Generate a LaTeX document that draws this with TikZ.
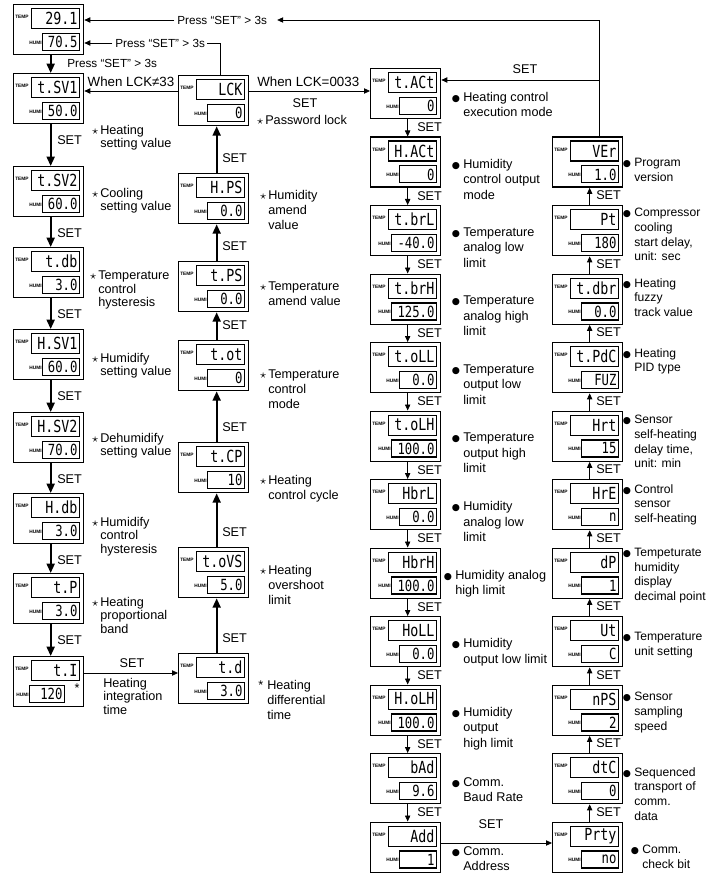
\documentclass[tikz,border=0pt]{standalone}
\usepackage{fontspec}
\setmainfont{Liberation Sans}
\newfontfamily\segfont[FakeStretch=0.8]{DejaVu Sans Mono}
\newfontfamily\symfont{DejaVu Sans}
\usetikzlibrary{arrows.meta}
\newcommand\bul{\llap{{\symfont\fontsize{7}{7}\selectfont ●}\hspace{2.5pt}}}
\newcommand\stm{\llap{$\star$\hspace{1.5pt}}}
\newcommand\modul[7]{%
  \node[modbox] (#1) at (#2,#3) {};
  \node[tdisp] (#1-t) at ({#2+67},{#3+4}) {#4};
  \node[tlab] (#1-tl) at ({#2+2},{#3+13}) {TEMP};
  \pgfmathsetlengthmacro\hw{(#7-#6)*0.75pt}%
  \pgfmathsetlengthmacro\hwt{(#7-#6)*0.75pt-3pt}%
  \node[hdisp, minimum width=\hw, text width=\hwt] (#1-h) at ({#2+#7},{#3+47}) {#5};
  \node[hlab] (#1-hl) at ({#2+#6-1},{#3+38.5}) {HUMI};
}
\begin{document}
\begin{tikzpicture}[x=0.75pt,y=-0.75pt,
  modbox/.style={draw, line width=1pt, anchor=north west, minimum width=52.5pt, minimum height=37.5pt, inner sep=0pt},
  tdisp/.style={draw, line width=0.8pt, anchor=north east, minimum width=36pt, minimum height=15pt, text width=33pt, inner sep=1.5pt, align=right, font=\segfont\fontsize{12.5}{12.5}\selectfont},
  hdisp/.style={draw, line width=0.8pt, anchor=south east, minimum height=12.75pt, inner sep=1.5pt, align=right, font=\segfont\fontsize{11.5}{11.5}\selectfont},
  tlab/.style={anchor=west, inner sep=0pt, font=\bfseries\fontsize{3.6}{4}\selectfont},
  hlab/.style={anchor=east, inner sep=0pt, font=\bfseries\fontsize{3.6}{4}\selectfont},
  lab1/.style={anchor=north west, align=left, inner sep=0pt, font=\fontsize{9.5}{10}\selectfont},
  lab2/.style={anchor=north west, align=left, inner sep=0pt, font=\fontsize{9.5}{11.25}\selectfont},
  lab3/.style={anchor=north west, align=left, inner sep=0pt, font=\fontsize{9.5}{11.5}\selectfont},
  lab4/.style={anchor=north west, align=left, inner sep=0pt, font=\fontsize{9.1}{11}\selectfont},
  setl/.style={inner sep=0pt, font=\fontsize{9.5}{10}\selectfont},
  pls/.style={inner sep=0pt, font=\fontsize{8.8}{10}\selectfont},
  wl/.style={inner sep=0pt, font=\fontsize{10}{11}\selectfont},
  thk/.style={line width=1.4pt, -{Triangle[length=7pt,width=6pt]}},
  thn/.style={line width=0.6pt, -{Triangle[length=4.5pt,width=4pt]}},
  ln/.style={line width=0.6pt}
]
\useasboundingbox (0,0) rectangle (709,877);
% column 1
\modul{A}{13}{4}{29.1}{70.5}{30}{67}
\modul{tsva}{13}{73}{t.SV1}{50.0}{30}{67}
\modul{tsvb}{13}{166}{t.SV2}{60.0}{30}{67}
\modul{tdb}{13}{247}{t.db}{3.0}{30}{67}
\modul{hsva}{13}{329}{H.SV1}{60.0}{30}{67}
\modul{hsvb}{13}{412}{H.SV2}{70.0}{30}{67}
\modul{hdb}{13}{493}{H.db}{3.0}{30}{67}
\modul{tp}{13}{573}{t.P}{3.0}{30}{67}
\modul{ti}{13}{656}{t.I}{120}{17}{52}
% column 2
\modul{lck}{178}{75}{LCK}{0}{30}{67}
\modul{hps}{178}{173}{H.PS}{0.0}{30}{67}
\modul{tps}{178}{261}{t.PS}{0.0}{30}{67}
\modul{tot}{178}{340}{t.ot}{0}{30}{67}
\modul{tcp}{178}{442}{t.CP}{10}{30}{67}
\modul{tovs}{178}{547}{t.oVS}{5.0}{30}{67}
\modul{td}{178}{653}{t.d}{3.0}{30}{67}
% column 3
\modul{tact}{370}{68}{t.ACt}{0}{30}{67}
\modul{hact}{370}{136.5}{H.ACt}{0}{30}{67}
\modul{tbrl}{370}{205}{t.brL}{-40.0}{22}{67}
\modul{tbrh}{370}{273.5}{t.brH}{125.0}{22}{67}
\modul{toll}{370}{342}{t.oLL}{0.0}{30}{67}
\modul{tolh}{370}{410.5}{t.oLH}{100.0}{22}{67}
\modul{hbrl}{370}{479}{HbrL}{0.0}{30}{67}
\modul{hbrh}{370}{547.5}{HbrH}{100.0}{22}{67}
\modul{holl}{370}{616}{HoLL}{0.0}{30}{67}
\modul{holh}{370}{684.5}{H.oLH}{100.0}{22}{67}
\modul{bad}{370}{753}{bAd}{9.6}{30}{67}
\modul{add}{370}{821.5}{Add}{1}{30}{67}
% column 4
\modul{ver}{552}{136.5}{VEr}{1.0}{30}{67}
\modul{pt}{552}{205}{Pt}{180}{30}{67}
\modul{tdbr}{552}{273.5}{t.dbr}{0.0}{30}{67}
\modul{tpdc}{552}{342}{t.PdC}{FUZ}{30}{67}
\modul{hrt}{552}{410.5}{Hrt}{15}{30}{67}
\modul{hre}{552}{479}{HrE}{n}{30}{67}
\modul{dp}{552}{547.5}{dP}{1}{30}{67}
\modul{ut}{552}{616}{Ut}{C}{30}{67}
\modul{nps}{552}{684.5}{nPS}{2}{30}{67}
\modul{dtc}{552}{753}{dtC}{0}{30}{67}
\modul{prty}{552}{821.5}{Prty}{no}{30}{67}

% top loops
\coordinate (c1) at (599,20);
\coordinate (c2) at (599,80);
\node[pls, anchor=west] (p1) at (177,20) {Press “SET” > 3s};
\draw[thn] (ver.north -| c1) -- (c1) -- ([xshift=7.5pt]p1.east);
\draw[thn] ([xshift=-2pt]p1.west) -- (A.east |- p1.west);
\draw[thn] (c2) -- (tact.east |- c2);
\node[setl] (s-top) at (525,69) {SET};
\coordinate (c3) at (220,43);
\node[pls, anchor=west] (p2) at (115,43) {Press “SET” > 3s};
\draw[ln] (lck.north -| c3) -- (c3) -- ([xshift=1.5pt]p2.east);
\draw[thn] ([xshift=-2pt]p2.west) -- (A.east |- p2.west);
\node[pls, anchor=west] (p3) at (67,63) {Press “SET” > 3s};
\draw[thk] ([xshift=1.5pt]A.south) -- ([xshift=1.5pt]tsva.north);

% LCK branches
\coordinate (y91) at (0,91);
\draw[thn] (lck.west |- y91) -- (tsva.east |- y91);
\node[wl] (w1) at (131,82) {When LCK≠33};
\draw[thn] (lck.east |- y91) -- (tact.west |- y91);
\node[wl, anchor=west] (w2) at (257,82) {When LCK=0033};
\node[setl] (s-lck) at (305,103) {SET};

% column 1 arrows
\foreach \a/\b/\y in {tsva/tsvb/140, tsvb/tdb/233, tdb/hsva/314, hsva/hsvb/396, hsvb/hdb/479, hdb/tp/560, tp/ti/640} {
  \draw[thk] ([xshift=1.5pt]\a.south) -- ([xshift=1.5pt]\b.north);
  \node[setl, anchor=west] (s-\a) at (57,\y) {SET};
}
% column 2 arrows
\foreach \a/\b/\y in {td/tovs/638, tovs/tcp/532, tcp/tot/427, tot/tps/325, tps/hps/246, hps/lck/158} {
  \draw[thk] ([xshift=2.25pt]\a.north) -- ([xshift=2.25pt]\b.south);
  \node[setl, anchor=west] (s-\a) at (222,\y) {SET};
}
% column 3 arrows
\foreach \a/\b/\y in {tact/hact/127.5, hact/tbrl/196, tbrl/tbrh/264.5, tbrh/toll/333, toll/tolh/401.5, tolh/hbrl/470, hbrl/hbrh/538.5, hbrh/holl/607, holl/holh/675.5, holh/bad/744, bad/add/812.5} {
  \draw[thn] ([xshift=1.5pt]\a.south) -- ([xshift=1.5pt]\b.north);
  \node[setl, anchor=west] (s-\a) at (417,\y) {SET};
}
% column 4 arrows
\foreach \a/\b/\y in {prty/dtc/812, dtc/nps/743.5, nps/ut/675, ut/dp/606.5, dp/hre/538, hre/hrt/469.5, hrt/tpdc/401, tpdc/tdbr/332.5, tdbr/pt/264, pt/ver/195.5} {
  \draw[thn] ([xshift=1.5pt]\a.north) -- ([xshift=1.5pt]\b.south);
  \node[setl, anchor=west] (s-\a) at (596,\y) {SET};
}
% bottom links
\coordinate (y673) at (0,673);
\draw[thn] (ti.east |- y673) -- (td.west |- y673);
\node[setl] (s-ti) at (132,663) {SET};
\coordinate (y843) at (0,843);
\draw[thn] (add.east |- y843) -- (prty.west |- y843);
\node[setl] (s-add) at (491,824) {SET};

% column 1 labels
\node[lab1] (l-tsva) at (100,125) {\stm Heating\\setting value};
\node[lab1] (l-tsvb) at (100,188) {\stm Cooling\\setting value};
\node[lab1] (l-tdb) at (98,271) {\stm Temperature\\control\\hysteresis};
\node[lab1] (l-hsva) at (100,353) {\stm Humidify\\setting value};
\node[lab1] (l-hsvb) at (100,433) {\stm Dehumidify\\setting value};
\node[lab1] (l-hdb) at (100,517) {\stm Humidify\\control\\hysteresis};
\node[lab1] (l-tp) at (100,597) {\stm Heating\\proportional\\band};
\node[lab1] (l-ti) at (103,678) {Heating\\integration\\time};
\node[setl] (st-ti) at (77,688) {*};
% column 2 labels
\node[lab2] (l-lck) at (265,115) {\stm Password lock};
\node[lab2] (l-hps) at (268,190) {\stm Humidity\\amend\\value};
\node[lab2] (l-tps) at (268,282) {\stm Temperature\\amend value};
\node[lab2] (l-tot) at (268,370) {\stm Temperature\\control\\mode};
\node[lab2] (l-tcp) at (268,475) {\stm Heating\\control cycle};
\node[lab2] (l-tovs) at (268,565) {\stm Heating\\overshoot\\limit};
\node[lab2] (l-td) at (267,680) {\llap{*\hspace{3pt}}Heating\\differential\\time};
% column 3 labels
\node[lab3] (l-tact) at (463,92) {\bul Heating control\\execution mode};
\node[lab3] (l-hact) at (463,159) {\bul Humidity\\control output\\mode};
\node[lab3] (l-tbrl) at (463,227.5) {\bul Temperature\\analog low\\limit};
\node[lab3] (l-tbrh) at (463,296) {\bul Temperature\\analog high\\limit};
\node[lab3] (l-toll) at (463,364.5) {\bul Temperature\\output low\\limit};
\node[lab3] (l-tolh) at (463,433) {\bul Temperature\\output high\\limit};
\node[lab3] (l-hbrl) at (463,501.5) {\bul Humidity\\analog low\\limit};
\node[lab3] (l-hbrh) at (455,570) {\bul Humidity analog\\high limit};
\node[lab3] (l-holl) at (463,638.5) {\bul Humidity\\output low limit};
\node[lab3] (l-holh) at (463,707) {\bul Humidity\\output\\high limit};
\node[lab3] (l-bad) at (463,777) {\bul Comm.\\Baud Rate};
\node[lab3] (l-add) at (463,846) {\bul Comm.\\Address};
% column 4 labels
\node[lab4] (l-ver) at (634,158) {\bul Program\\version};
\node[lab4] (l-pt) at (634,208) {\bul Compressor\\cooling\\start delay,\\unit: sec};
\node[lab4] (l-tdbr) at (634,278) {\bul Heating\\fuzzy\\track value};
\node[lab4] (l-tpdc) at (634,348) {\bul Heating\\PID type};
\node[lab4] (l-hrt) at (634,415) {\bul Sensor\\self-heating\\delay time,\\unit: min};
\node[lab4] (l-hre) at (634,484) {\bul Control\\sensor\\self-heating};
\node[lab4] (l-dp) at (634,548) {\bul Tempeturate\\humidity\\display\\decimal point};
\node[lab4] (l-ut) at (634,632) {\bul Temperature\\unit setting};
\node[lab4] (l-nps) at (634,692) {\bul Sensor\\sampling\\speed};
\node[lab4] (l-dtc) at (634,767) {\bul Sequenced\\transport of\\comm.\\data};
\node[lab4] (l-prty) at (642,845) {\bul Comm.\\check bit};
\end{tikzpicture}
\end{document}
